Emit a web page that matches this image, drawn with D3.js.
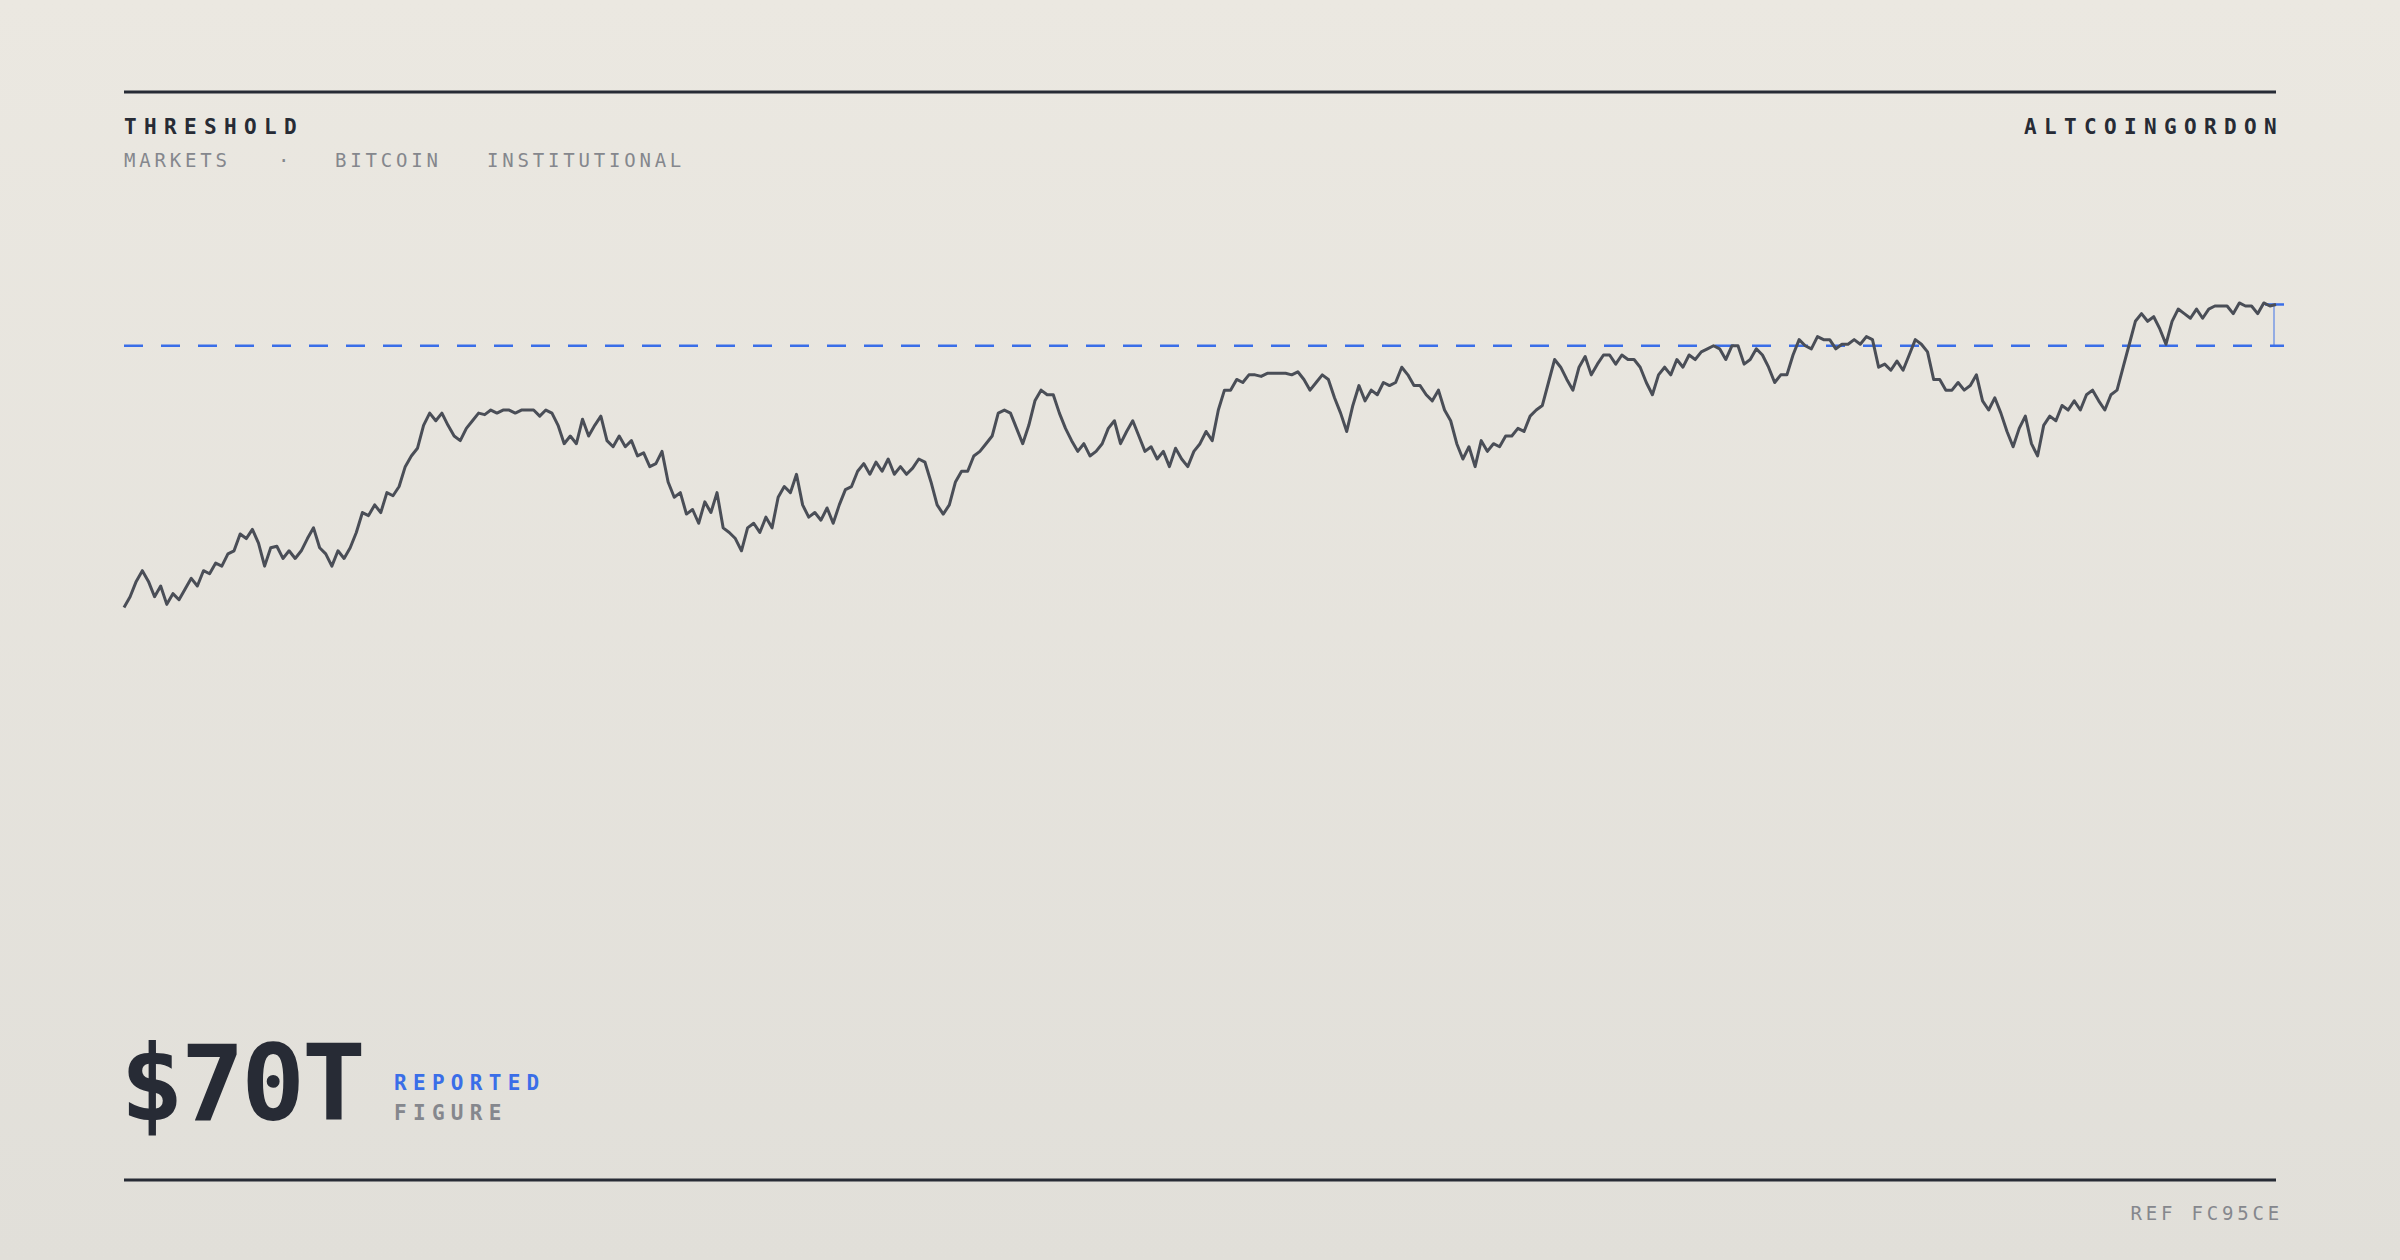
<!DOCTYPE html>
<html><head><meta charset="utf-8">
<script src="https://cdn.jsdelivr.net/npm/d3@7"></script>
<style>html,body{margin:0;padding:0;}svg{display:block;}</style>
</head><body>
<svg id="c" width="2400" height="1260"></svg>
<script>
const values = [3,10,20,27,20,10,17,5,12,8,15,22,17,27,25,32,30,38,40,51,48,54,45,30,42,43,35,40,35,40,48,55,42,38,30,40,35,42,52,65,63,70,65,78,76,82,95,102,107,122,130,125,130,122,115,112,120,125,130,129,132,130,132,132,130,132,132,132,128,132,130,122,110,115,110,126,115,122,128,112,108,115,108,112,102,104,95,97,105,85,75,78,64,67,58,72,65,78,55,52,48,40,55,58,52,62,55,75,82,78,90,70,62,65,60,68,58,70,80,82,92,97,90,98,92,100,90,95,90,94,100,98,85,70,64,70,85,92,92,102,105,110,115,130,132,130,120,110,122,138,145,142,142,130,120,112,105,110,102,105,110,120,125,110,118,125,115,105,108,100,105,95,107,100,95,105,110,118,112,132,145,145,152,150,155,155,154,156,156,156,156,155,157,152,145,150,155,152,140,130,118,135,148,138,145,142,150,148,150,160,155,148,148,142,138,145,132,125,110,100,108,95,112,105,110,108,115,115,120,118,128,132,135,150,165,160,152,145,160,167,155,162,168,168,162,168,165,165,160,150,142,155,160,155,165,160,168,165,170,172,174,172,165,174,174,162,165,172,168,160,150,155,155,168,178,174,172,180,178,178,172,175,175,178,175,180,178,160,162,158,164,158,168,178,175,170,152,152,145,145,150,145,148,155,138,132,140,130,118,108,120,128,110,102,122,128,125,135,132,138,132,142,145,138,132,142,145,160,175,190,195,190,193,185,175,190,198,195,192,198,192,198,200,200,200,195,202,200,200,195,202,200,201];
const threshold = 174;
const title = "THRESHOLD";
const tags = ["MARKETS","·","BITCOIN","INSTITUTIONAL"];
const author = "ALTCOINGORDON";
const bigFigure = "$70T";
const figLabels = ["REPORTED","FIGURE"];
const refText = "REF FC95CE";

const svg = d3.select("#c");
const defs = svg.append("defs");
const g = defs.append("linearGradient").attr("id","bg").attr("x1",0).attr("x2",0).attr("y1",0).attr("y2",1);
g.append("stop").attr("offset","0%").attr("stop-color","#ebe8e1");
g.append("stop").attr("offset","100%").attr("stop-color","#e1dfd9");
svg.append("rect").attr("width",2400).attr("height",1260).attr("fill","url(#bg)");

const ink="#272b35", grey="#85878d", blue="#3a6ee8";
const mono="'DejaVu Sans Mono','Liberation Mono',monospace";
const L=124,R=2276;

svg.append("line").attr("x1",L).attr("x2",R).attr("y1",92).attr("y2",92).attr("stroke",ink).attr("stroke-width",3);
svg.append("line").attr("x1",L).attr("x2",R).attr("y1",1180).attr("y2",1180).attr("stroke",ink).attr("stroke-width",3);

svg.append("text").attr("x",L).attr("y",134).text(title).attr("font-family",mono).attr("font-weight","bold")
  .attr("font-size",21).attr("letter-spacing","0.35em").attr("fill",ink);
const tagX=[124,278,335,487];
tags.forEach((t,i)=>svg.append("text").attr("x",tagX[i]).attr("y",167).text(t).attr("font-family",mono)
  .attr("font-size",19).attr("letter-spacing","0.2em").attr("fill",grey));
svg.append("text").attr("x",2284).attr("y",134).text(author).attr("font-family",mono).attr("font-weight","bold")
  .attr("font-size",21).attr("letter-spacing","0.35em").attr("fill",ink).attr("text-anchor","end");

const x=d3.scaleLinear().domain([0,values.length-1]).range([L,R]);
const y=d3.scaleLinear().domain([0,200]).range([612,306]);

svg.append("line").attr("x1",L).attr("x2",2284).attr("y1",y(threshold)).attr("y2",y(threshold))
  .attr("stroke",blue).attr("stroke-width",2.5).attr("stroke-dasharray","19 18");
const last=values[values.length-1];
svg.append("line").attr("x1",2274).attr("x2",2274).attr("y1",y(threshold)).attr("y2",y(last)).attr("stroke",blue).attr("stroke-width",1.2).attr("opacity",0.8);
svg.append("line").attr("x1",2265).attr("x2",2284).attr("y1",y(last)).attr("y2",y(last)).attr("stroke",blue).attr("stroke-width",2.5);

svg.append("path").datum(values).attr("fill","none").attr("stroke","#4a4e57").attr("stroke-width",3)
  .attr("stroke-linejoin","round").attr("d",d3.line().x((d,i)=>x(i)).y(d=>y(d)));

svg.append("text").attr("x",120).attr("y",1120).text(bigFigure).attr("font-family",mono).attr("font-weight","bold")
  .attr("font-size",106).attr("fill",ink).attr("letter-spacing","-0.03em");
svg.append("text").attr("x",394).attr("y",1090).text(figLabels[0]).attr("font-family",mono).attr("font-weight","bold")
  .attr("font-size",21).attr("letter-spacing","0.3em").attr("fill",blue);
svg.append("text").attr("x",394).attr("y",1120).text(figLabels[1]).attr("font-family",mono).attr("font-weight","bold")
  .attr("font-size",21).attr("letter-spacing","0.3em").attr("fill",grey);
svg.append("text").attr("x",2283).attr("y",1220).text(refText).attr("font-family",mono)
  .attr("font-size",19).attr("letter-spacing","0.2em").attr("fill",grey).attr("text-anchor","end");
</script>
</body></html>
